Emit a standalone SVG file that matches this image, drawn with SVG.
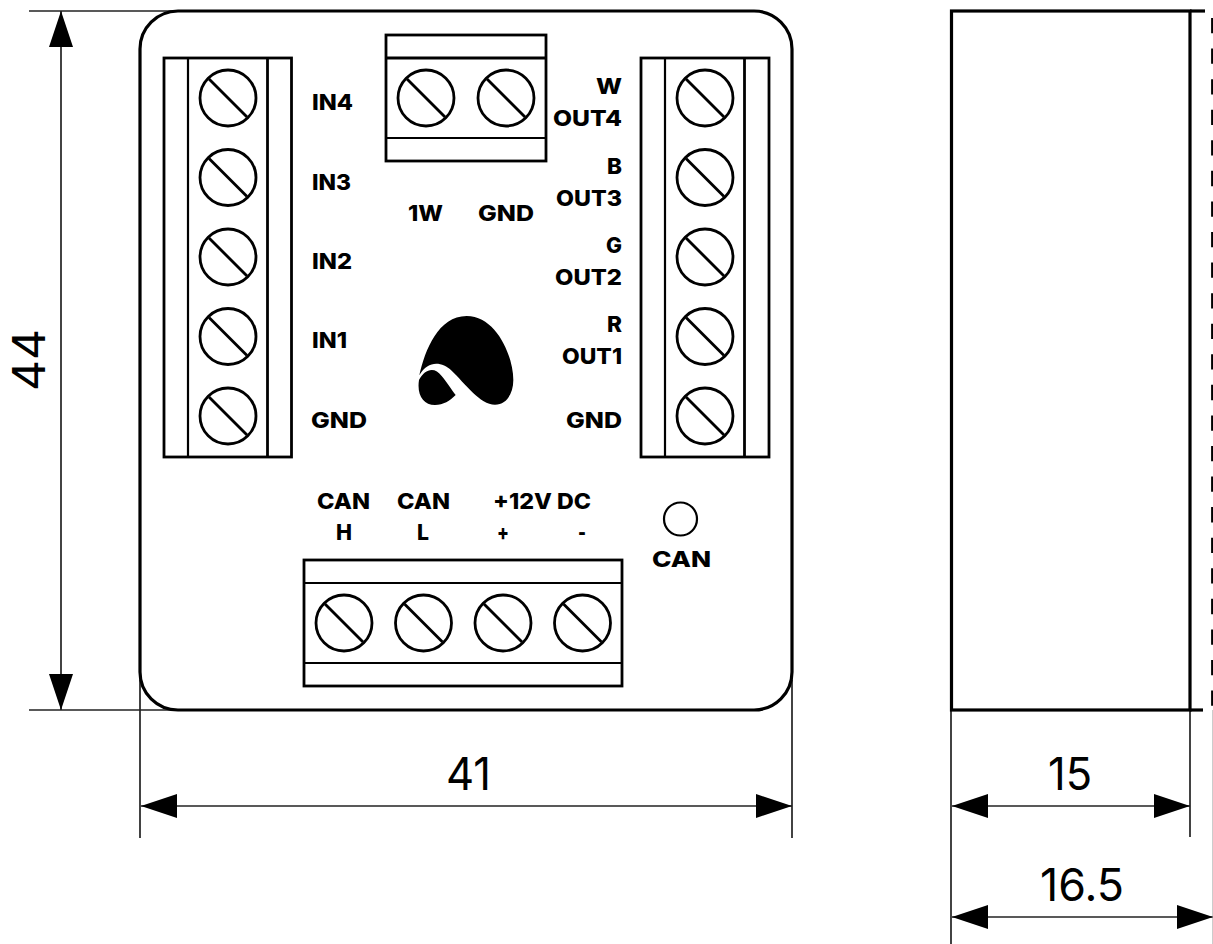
<svg xmlns="http://www.w3.org/2000/svg" xmlns:xlink="http://www.w3.org/1999/xlink" width="1213" height="944" viewBox="0 0 1213 944">
<style>
.o{fill:none;stroke:#000;stroke-width:2.8}
.w{fill:none;stroke:#000;stroke-width:3.2}
.t{fill:none;stroke:#000;stroke-width:2.2}
.d{fill:none;stroke:#222;stroke-width:1.7}
text{font-family:"Inter","Liberation Sans",sans-serif;fill:#000}
.b{font-weight:800;font-size:22px}
.n{font-weight:400;font-size:45px}
</style>
<defs>
<g id="screw"><circle r="28" class="o"/><line x1="-19" y1="-19" x2="19" y2="19" class="o"/></g>
<marker id="ah" markerUnits="userSpaceOnUse" markerWidth="36" markerHeight="24" refX="36" refY="12" orient="auto-start-reverse"><path d="M0 0L36 12L0 24Z" fill="#000"/></marker>
</defs>
<rect width="1213" height="944" fill="#fff"/>
<g id="connectors">
<line class="d" x1="29" y1="11" x2="180" y2="11"/>
<line class="d" x1="29" y1="710" x2="180" y2="710"/>
<line class="d" x1="61" y1="11" x2="61" y2="710" marker-start="url(#ah)" marker-end="url(#ah)"/>
<line class="d" x1="140" y1="680" x2="140" y2="838"/>
<line class="d" x1="792" y1="680" x2="792" y2="838"/>
<line class="d" x1="141" y1="806" x2="792" y2="806" marker-start="url(#ah)" marker-end="url(#ah)"/>
<line class="d" x1="951" y1="710" x2="951" y2="944"/>
<line class="d" x1="1190" y1="710" x2="1190" y2="837"/>
<line class="d" x1="952" y1="806" x2="1190" y2="806" marker-start="url(#ah)" marker-end="url(#ah)"/>
<line class="d" x1="952" y1="917" x2="1213" y2="917" marker-start="url(#ah)" marker-end="url(#ah)"/>
<line x1="1213" y1="710" x2="1213" y2="944" stroke="#999" stroke-width="1"/>
</g>
<g id="body"><rect class="w" x="140" y="11" width="652" height="699" rx="38" ry="38"/></g>
<g id="term-left">
<rect class="o" x="164" y="58" width="127.500" height="399"/>
<line class="t" x1="188" y1="58" x2="188" y2="457"/><line class="o" x1="267.500" y1="58" x2="267.500" y2="457"/>
<use xlink:href="#screw" href="#screw" x="228" y="98"/><use href="#screw" x="228" y="177.500"/><use href="#screw" x="228" y="257"/><use href="#screw" x="228" y="336.500"/><use href="#screw" x="228" y="416"/>
</g>
<g id="term-top">
<rect class="o" x="386" y="35" width="160" height="126"/>
<line class="o" x1="386" y1="58" x2="546" y2="58"/><line class="t" x1="386" y1="138" x2="546" y2="138"/>
<use href="#screw" x="426" y="98"/><use href="#screw" x="506" y="98"/>
</g>
<g id="term-right">
<rect class="o" x="641" y="58" width="128" height="399"/>
<line class="t" x1="665" y1="58" x2="665" y2="457"/><line class="o" x1="744.500" y1="58" x2="744.500" y2="457"/>
<use href="#screw" x="705" y="98"/><use href="#screw" x="705" y="177.500"/><use href="#screw" x="705" y="257"/><use href="#screw" x="705" y="336.500"/><use href="#screw" x="705" y="416"/>
</g>
<g id="term-bottom">
<rect class="o" x="304" y="560" width="318" height="126"/>
<line class="t" x1="304" y1="583" x2="622" y2="583"/><line class="t" x1="304" y1="663" x2="622" y2="663"/>
<use href="#screw" x="344" y="623"/><use href="#screw" x="423.500" y="623"/><use href="#screw" x="503" y="623"/><use href="#screw" x="582.500" y="623"/>
</g>
<g id="led"><circle class="t" cx="680.500" cy="519" r="16.500"/><text class="b" x="652" y="567" textLength="59" lengthAdjust="spacingAndGlyphs">CAN</text></g>
<g id="logo"><path transform="translate(400 300) scale(.3333)" fill="#000" d="M58 226C75 150 115 48 200 48C290 48 340 170 340 240C340 280 320 314 285 314C240 314 195 250 155 212C125 185 85 180 58 226ZM57 240C75 205 105 200 125 228C140 245 155 270 167 285C150 302 130 315 105 315C70 315 50 285 57 240Z"/></g>
<g id="side-view">
<rect class="w" x="951.500" y="11" width="238.500" height="699"/>
<line class="w" x1="1190" y1="11" x2="1205" y2="11"/>
<line class="w" x1="1190" y1="710" x2="1203" y2="710"/>
<line x1="1212.200" y1="18" x2="1212.200" y2="706" stroke="#000" stroke-width="2.200" stroke-dasharray="15.300 15.270"/>
</g>
<g id="labels">
<text class="b" x="312" y="110" textLength="41" lengthAdjust="spacingAndGlyphs">IN4</text>
<text class="b" x="312" y="190" textLength="39" lengthAdjust="spacingAndGlyphs">IN3</text>
<text class="b" x="312" y="269" textLength="40" lengthAdjust="spacingAndGlyphs">IN2</text>
<text class="b" x="312" y="348" textLength="35" lengthAdjust="spacingAndGlyphs">IN1</text>
<text class="b" x="311" y="428" textLength="56" lengthAdjust="spacingAndGlyphs">GND</text>
<text class="b" x="408" y="221" textLength="35" lengthAdjust="spacingAndGlyphs">1W</text>
<text class="b" x="478" y="221" textLength="56" lengthAdjust="spacingAndGlyphs">GND</text>
<text class="b" x="596" y="94" textLength="26" lengthAdjust="spacingAndGlyphs">W</text>
<text class="b" x="553" y="126" textLength="69" lengthAdjust="spacingAndGlyphs">OUT4</text>
<text class="b" x="607" y="174" textLength="15" lengthAdjust="spacingAndGlyphs">B</text>
<text class="b" x="556" y="206" textLength="66" lengthAdjust="spacingAndGlyphs">OUT3</text>
<text class="b" x="606" y="253" textLength="16" lengthAdjust="spacingAndGlyphs">G</text>
<text class="b" x="555" y="285" textLength="67" lengthAdjust="spacingAndGlyphs">OUT2</text>
<text class="b" x="607" y="332" textLength="15" lengthAdjust="spacingAndGlyphs">R</text>
<text class="b" x="562" y="364" textLength="60" lengthAdjust="spacingAndGlyphs">OUT1</text>
<text class="b" x="566" y="428" textLength="56" lengthAdjust="spacingAndGlyphs">GND</text>
<text class="b" x="317" y="509" textLength="53" lengthAdjust="spacingAndGlyphs">CAN</text>
<text class="b" x="336" y="540" textLength="16" lengthAdjust="spacingAndGlyphs">H</text>
<text class="b" x="397" y="509" textLength="53" lengthAdjust="spacingAndGlyphs">CAN</text>
<text class="b" x="417" y="540" textLength="12" lengthAdjust="spacingAndGlyphs">L</text>
<text class="b" x="493" y="509" textLength="98" lengthAdjust="spacingAndGlyphs">+12V DC</text>
<text class="b" x="497" y="540" textLength="12" lengthAdjust="spacingAndGlyphs">+</text>
<text class="b" x="578" y="540" textLength="8" lengthAdjust="spacingAndGlyphs">-</text>
<text class="n" x="446" y="790" textLength="45" lengthAdjust="spacingAndGlyphs">41</text>
<text class="n" x="1048" y="790" textLength="44" lengthAdjust="spacingAndGlyphs">15</text>
<text class="n" x="1040" y="901" textLength="84" lengthAdjust="spacingAndGlyphs">16.5</text>
<text class="n" transform="translate(45 391) rotate(-90)" x="0" y="0" textLength="62" lengthAdjust="spacingAndGlyphs">44</text>
</g>
</svg>
